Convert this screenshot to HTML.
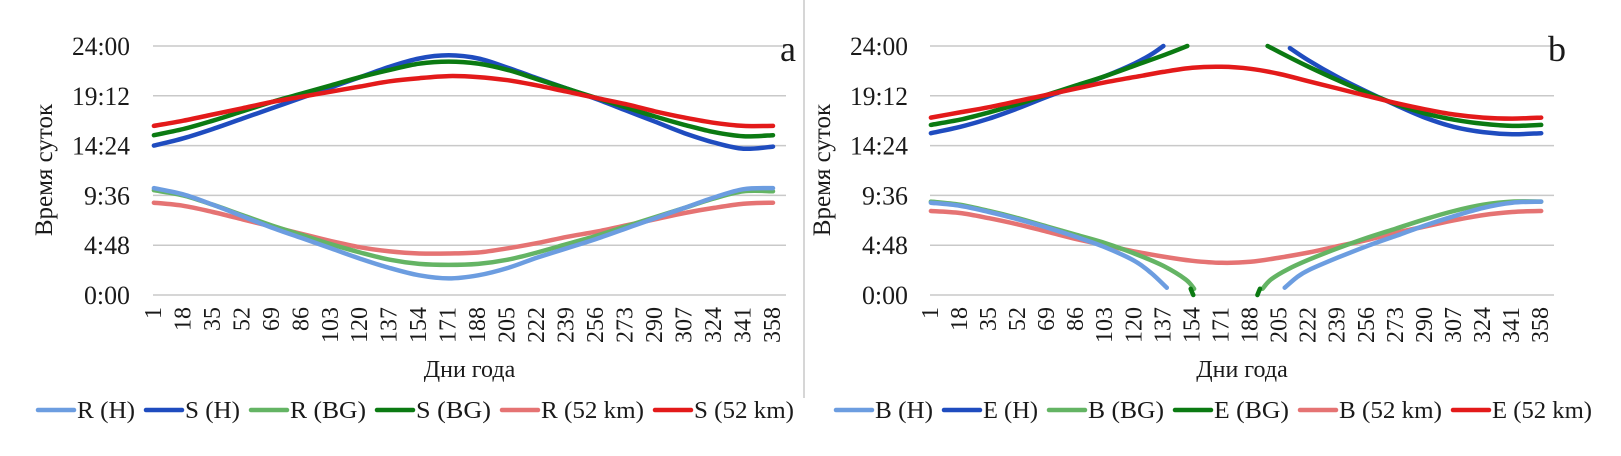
<!DOCTYPE html>
<html><head><meta charset="utf-8"><style>
html,body{margin:0;padding:0;background:#fff;}
svg{display:block;}
text{font-family:"Liberation Serif","DejaVu Serif",serif;fill:#1a1a1a;}
</style></head><body>
<svg id="chart" width="1621" height="456" viewBox="0 0 1621 456" xmlns="http://www.w3.org/2000/svg">
<line x1="804" y1="0" x2="804" y2="398" stroke="#c8c8c8" stroke-width="1.5"/>
<g id="pa"></g>
<g id="pb"></g>
</svg>
<script>
const NS="http://www.w3.org/2000/svg";
const DAYS=[1,18,35,52,69,86,103,120,137,154,171,188,205,222,239,256,273,290,307,324,341,358];
const Y_TICKS=[0,4.8,9.6,14.4,19.2,24];
const Y_TICK_LABELS=["0:00","4:48","9:36","14:24","19:12","24:00"];
// panel a
const A_R_H=[10.3,9.7,8.7,7.6,6.5,5.5,4.5,3.5,2.6,1.9,1.6,1.9,2.6,3.6,4.5,5.4,6.4,7.4,8.4,9.4,10.2,10.3];
const A_S_H=[14.4,15.1,16.0,17.0,18.0,19.0,20.0,21.0,22.0,22.8,23.1,22.8,21.9,20.9,19.9,18.9,17.8,16.7,15.6,14.7,14.1,14.3];
const A_R_BG=[10.1,9.6,8.7,7.7,6.7,5.8,4.9,4.1,3.4,3.0,2.9,3.0,3.4,4.1,4.9,5.7,6.6,7.5,8.4,9.3,10.0,10.0];
const A_S_BG=[15.4,16.0,16.8,17.7,18.6,19.4,20.2,21.0,21.7,22.3,22.5,22.3,21.7,20.8,19.9,19.0,18.1,17.2,16.4,15.7,15.3,15.4];
const A_R_52=[8.9,8.6,8.0,7.3,6.6,5.9,5.2,4.6,4.2,4.0,4.0,4.1,4.5,5.0,5.6,6.1,6.7,7.3,7.9,8.4,8.8,8.9];
const A_S_52=[16.3,16.8,17.4,18.0,18.6,19.1,19.6,20.1,20.6,20.9,21.1,21.0,20.7,20.2,19.6,19.0,18.4,17.7,17.1,16.6,16.3,16.3];
// panel b (segments: days / values)
const B_BH_D1=[1,18,35,52,69,86,103,120,130,139];
const B_BH_V1=[8.9,8.6,8.0,7.3,6.5,5.6,4.6,3.3,2.1,0.7];
const B_BH_D2=[208,215,222,239,256,273,290,307,324,341,358];
const B_BH_V2=[0.7,1.7,2.4,3.6,4.7,5.7,6.7,7.6,8.4,8.9,9.0];
const B_EH_D1=[1,18,35,52,69,86,103,120,130,137];
const B_EH_V1=[15.6,16.2,17.0,18.0,19.1,20.1,21.1,22.3,23.2,24.0];
const B_EH_D2=[211,222,239,256,273,290,307,324,341,358];
const B_EH_V2=[23.8,22.6,21.0,19.6,18.3,17.1,16.2,15.7,15.5,15.6];
const B_BBG_D1=[1,18,35,52,69,86,103,120,137,150,155];
const B_BBG_V1=[9.0,8.7,8.1,7.4,6.6,5.8,5.0,4.0,2.8,1.5,0.6];
const B_BBG_D2=[195,200,210,222,239,256,273,290,307,324,341,358];
const B_BBG_V2=[0.6,1.5,2.5,3.4,4.5,5.5,6.4,7.3,8.1,8.7,9.0,9.0];
const B_EBG_D1=[1,18,35,52,69,86,103,120,137,151];
const B_EBG_V1=[16.4,16.9,17.6,18.4,19.3,20.2,21.1,22.1,23.1,24.0];
const B_EBG_D2=[198,205,222,239,256,273,290,307,324,341,358];
const B_EBG_V2=[24.0,23.4,22.0,20.7,19.5,18.4,17.5,16.9,16.5,16.3,16.4];
const B_EBG_D3=[153,154.5];
const B_EBG_V3=[0.6,0.0];
const B_EBG_D4=[192,193.5];
const B_EBG_V4=[0.0,0.6];
const B_B52=[8.1,7.9,7.4,6.8,6.1,5.4,4.8,4.2,3.7,3.3,3.1,3.2,3.6,4.1,4.7,5.3,6.0,6.6,7.2,7.7,8.0,8.1];
const B_E52=[17.1,17.6,18.1,18.7,19.3,19.9,20.5,21.0,21.5,21.9,22.0,21.8,21.3,20.6,19.9,19.2,18.5,17.9,17.4,17.1,17.0,17.1];

const C={rh:"#6c9de0",sh:"#1f4cbf",rbg:"#64b464",sbg:"#0b7a12",r52:"#e57373",s52:"#e31a1a"};

function mk(tag,attrs,parent){const e=document.createElementNS(NS,tag);for(const k in attrs)e.setAttribute(k,attrs[k]);parent.appendChild(e);return e;}

function panel(g,cfg){
  const x=d=>cfg.x0+(d-0.5)*(cfg.x1-cfg.x0)/365;
  const y=v=>295-v*(295-46)/24;
  Y_TICKS.forEach((t,i)=>{
    const l=mk("line",{x1:cfg.x0,x2:cfg.x1,y1:y(t),y2:y(t),stroke:"#c9c9c9","stroke-width":1.5},g);
    
    
    const tx=mk("text",{x:cfg.yl,y:y(t)+9,"text-anchor":"end","font-size":26,textLength:Y_TICK_LABELS[i].length>4?58:46,lengthAdjust:"spacingAndGlyphs"},g);
    tx.textContent=Y_TICK_LABELS[i];
    
    
  });
  DAYS.forEach(d=>{
    const px=x(d)+7;
    const tx=mk("text",{x:px,y:307,"text-anchor":"end","font-size":24,transform:`rotate(-90 ${px} 307)`},g);
    tx.textContent=String(d);
    
    
  });
  const xt=mk("text",{x:(cfg.x0+cfg.x1)/2,y:377,"text-anchor":"middle","font-size":24},g);
  xt.textContent="Дни года";
  
  
  const yt=mk("text",{x:cfg.yt,y:170,"text-anchor":"middle","font-size":25,transform:`rotate(-90 ${cfg.yt} 170)`},g);
  yt.textContent="Время суток";
  
  
  const pl=mk("text",{x:cfg.x1-6,y:61,"font-size":36},g);
  pl.textContent=cfg.letter;
  
  
  cfg.series.forEach(s=>{
    const P=s.d.map((d,i)=>[x(d),y(s.v[i])]);
    let dstr="M"+P[0][0].toFixed(1)+","+P[0][1].toFixed(1);
    for(let i=0;i<P.length-1;i++){
      const p0=P[Math.max(0,i-1)],p1=P[i],p2=P[i+1],p3=P[Math.min(P.length-1,i+2)];
      const c1=[p1[0]+(p2[0]-p0[0])/6,p1[1]+(p2[1]-p0[1])/6];
      const c2=[p2[0]-(p3[0]-p1[0])/6,p2[1]-(p3[1]-p1[1])/6];
      dstr+=` C${c1[0].toFixed(1)},${c1[1].toFixed(1)} ${c2[0].toFixed(1)},${c2[1].toFixed(1)} ${p2[0].toFixed(1)},${p2[1].toFixed(1)}`;
    }
    const p=mk("path",{d:dstr,fill:"none",stroke:s.c,"stroke-width":4.5,"stroke-linecap":"round"},g);
    
    
  });
  let lx=cfg.legX;
  cfg.legend.forEach(it=>{
    const l=mk("line",{x1:lx,x2:lx+36,y1:410,y2:410,stroke:it.c,"stroke-width":4.5,"stroke-linecap":"round"},g);
    
    
    const t=mk("text",{x:lx+39,y:418,"font-size":24,textLength:it.w,lengthAdjust:"spacingAndGlyphs"},g);
    t.textContent=it.t;
    
    
    lx+=39+it.w+11;
  });
}

panel(document.getElementById("pa"),{x0:153,x1:786,yl:130,yt:52,letter:"a",legX:38,
  series:[
    {name:"line-r-52",c:C.r52,d:DAYS,v:A_R_52},
    {name:"line-r-bg",c:C.rbg,d:DAYS,v:A_R_BG},
    {name:"line-r-h",c:C.rh,d:DAYS,v:A_R_H},
    {name:"line-s-h",c:C.sh,d:DAYS,v:A_S_H},
    {name:"line-s-bg",c:C.sbg,d:DAYS,v:A_S_BG},
    {name:"line-s-52",c:C.s52,d:DAYS,v:A_S_52}],
  legend:[{t:"R (H)",c:C.rh,w:58},{t:"S (H)",c:C.sh,w:55},{t:"R (BG)",c:C.rbg,w:76},{t:"S (BG)",c:C.sbg,w:75},{t:"R (52 km)",c:C.r52,w:103},{t:"S (52 km)",c:C.s52,w:100}]
});
panel(document.getElementById("pb"),{x0:930,x1:1554,yl:908,yt:830,letter:"b",legX:836,
  series:[
    {name:"line-b-52",c:C.r52,d:DAYS,v:B_B52},
    {name:"line-b-bg-early",c:C.rbg,d:B_BBG_D1,v:B_BBG_V1},
    {name:"line-b-bg-late",c:C.rbg,d:B_BBG_D2,v:B_BBG_V2},
    {name:"line-b-h-early",c:C.rh,d:B_BH_D1,v:B_BH_V1},
    {name:"line-b-h-late",c:C.rh,d:B_BH_D2,v:B_BH_V2},
    {name:"line-e-h-early",c:C.sh,d:B_EH_D1,v:B_EH_V1},
    {name:"line-e-h-late",c:C.sh,d:B_EH_D2,v:B_EH_V2},
    {name:"line-e-bg-early",c:C.sbg,d:B_EBG_D1,v:B_EBG_V1},
    {name:"line-e-bg-late",c:C.sbg,d:B_EBG_D2,v:B_EBG_V2},
    {name:"line-e-bg-wrap1",c:C.sbg,d:B_EBG_D3,v:B_EBG_V3},
    {name:"line-e-bg-wrap2",c:C.sbg,d:B_EBG_D4,v:B_EBG_V4},
    {name:"line-e-52",c:C.s52,d:DAYS,v:B_E52}],
  legend:[{t:"B (H)",c:C.rh,w:58},{t:"E (H)",c:C.sh,w:55},{t:"B (BG)",c:C.rbg,w:76},{t:"E (BG)",c:C.sbg,w:75},{t:"B (52 km)",c:C.r52,w:103},{t:"E (52 km)",c:C.s52,w:100}]
});
</script>
</body></html>
